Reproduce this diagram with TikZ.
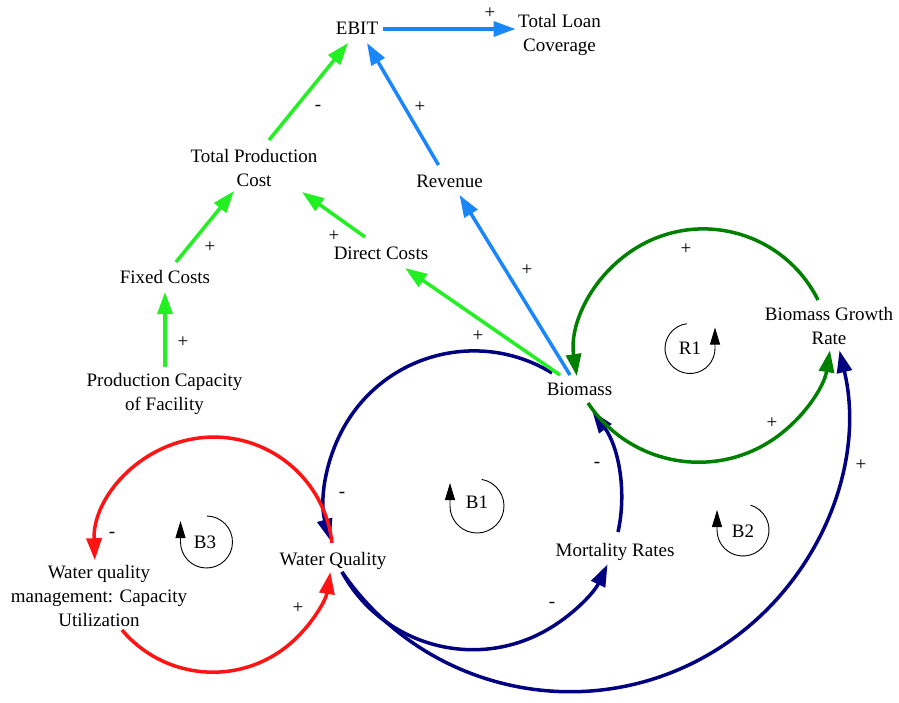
\documentclass[tikz,border=0pt]{standalone}
\usepackage{fontspec}
\setmainfont{Liberation Serif}
\usetikzlibrary{arrows.meta}
\definecolor{cblue}{RGB}{25,135,250}
\definecolor{clime}{RGB}{35,240,35}
\definecolor{cdkgreen}{RGB}{0,128,0}
\definecolor{cnavy}{RGB}{0,0,128}
\definecolor{cred}{RGB}{255,20,20}
\begin{document}
\begin{tikzpicture}[x=1pt,y=1pt,
  lbl/.style={inner sep=0pt, align=center, font=\fontsize{19}{24}\selectfont},
  sgn/.style={inner sep=0pt, font=\fontsize{19}{22}\selectfont},
  link/.style={line width=3.5pt, -{Triangle[length=22pt,width=15pt]}},
  loopsym/.style={line width=0.9pt, -{Triangle[length=17pt,width=10pt]}}]
\fill[white] (0,0) rectangle (899,-702);
\useasboundingbox (0,0) rectangle (899,-702);

% variables
\node[lbl] (ebit) at (357,-28.7) {EBIT};
\node[lbl] (tlc) at (559.5,-34.5) {Total Loan\\Coverage};
\node[lbl] (tpc) at (254,-167.5) {Total Production\\Cost};
\node[lbl] (rev) at (449.5,-181.7) {Revenue};
\node[lbl] (fix) at (165,-276.5) {Fixed Costs};
\node[lbl] (dc) at (381,-253.5) {Direct Costs};
\node[lbl] (pcf) at (164.5,-394) {Production Capacity\\of Facility};
\node[lbl] (bio) at (579.5,-389.7) {Biomass};
\node[lbl] (bgr) at (829,-326) {Biomass Growth\\Rate};
\node[lbl] (wq) at (333,-560.5) {Water Quality};
\node[lbl] (mr) at (615,-551.5) {Mortality Rates};
\node[lbl] (wqm) at (99,-595.5) {Water quality\\management: Capacity\\Utilization};

% straight links
\draw[link,cblue] ([shift={(26,-0.3)}]ebit.center) -- ([shift={(-44,5.5)}]tlc.center);
\draw[link,cblue] ([shift={(-11,16.7)}]rev.center) -- ([shift={(10,-14.3)}]ebit.center);
\draw[link,clime] ([shift={(15,27.5)}]tpc.center) -- ([shift={(-9,-14.3)}]ebit.center);
\draw[link,clime] ([shift={(11,14.5)}]fix.center) -- ([shift={(-20,-23.5)}]tpc.center);
\draw[link,clime] ([shift={(0.5,27)}]pcf.center) -- ([shift={(0,-15.5)}]fix.center);
\draw[link,clime] ([shift={(-16,16.5)}]dc.center) -- ([shift={(48,-24.5)}]tpc.center);

% curved links
\draw[link,cnavy] ([shift={(-27.5,16.7)}]bio.center) arc[start angle=58.4,end angle=196,radius=149pt];
\draw[link,cnavy] ([shift={(9,-11.5)}]wq.center) arc[start angle=208.6,end angle=334.7,radius=149pt];
\draw[link,cnavy] ([shift={(3,19.5)}]mr.center) arc[start angle=-12.5,end angle=36.5,radius=149pt];
\draw[link,cnavy] ([shift={(9,-11.5)}]wq.center) arc[start angle=214.6,end angle=373.4,radius=277pt];
\draw[link,clime] ([shift={(-19.5,14.7)}]bio.center) -- ([shift={(24,-14.5)}]dc.center);
\draw[link,cblue] ([shift={(-9.5,14.7)}]bio.center) -- ([shift={(10,-13.3)}]rev.center);
\draw[link,cdkgreen] ([shift={(-11,26)}]bgr.center) arc[start angle=26.4,end angle=188.6,radius=128pt];
\draw[link,cdkgreen] ([shift={(8.5,-13.3)}]bio.center) arc[start angle=213.7,end angle=350.9,radius=133pt];
\draw[link,cred] ([shift={(-1,17.5)}]wq.center) arc[start angle=6.3,end angle=182,radius=119pt];
\draw[link,cred] ([shift={(23,-34.5)}]wqm.center) arc[start angle=220.2,end angle=350.9,radius=119pt];

% polarities
\node[sgn] (s1) at (490,-13) {+};
\node[sgn] (s2) at (420,-107) {+};
\node[sgn] (s3) at (318,-108) {-};
\node[sgn] (s4) at (210,-247) {+};
\node[sgn] (s5) at (183,-342) {+};
\node[sgn] (s6) at (334,-236) {+};
\node[sgn] (s7) at (527,-270) {+};
\node[sgn] (s8) at (478,-336) {+};
\node[sgn] (s9) at (686,-249) {+};
\node[sgn] (s10) at (772,-423) {+};
\node[sgn] (s11) at (861,-465) {+};
\node[sgn] (s12) at (597,-465) {-};
\node[sgn] (s13) at (552,-605) {-};
\node[sgn] (s14) at (342,-495) {-};
\node[sgn] (s15) at (112,-535) {-};
\node[sgn] (s16) at (298,-608) {+};

% loop markers
\node[lbl] (r1) at (690,-348.5) {R1};
\draw[loopsym] (r1.center) ++(97:25pt) arc[start angle=97,end angle=360,radius=25pt] -- ++(0,21);
\node[lbl] (b1) at (477,-502) {B1};
\draw[loopsym] ([shift={(0,-4)}]b1.center) ++(80:27pt) arc[start angle=80,end angle=-180,radius=27pt] -- ++(0,23);
\node[lbl] (b2) at (743,-531) {B2};
\draw[loopsym] ([shift={(0,1)}]b2.center) ++(73:26pt) arc[start angle=73,end angle=-180,radius=26pt] -- ++(0,20);
\node[lbl] (b3) at (205,-542) {B3};
\draw[loopsym] ([shift={(1.5,0)}]b3.center) ++(89:26pt) arc[start angle=89,end angle=-180,radius=26pt] -- ++(0,21);
\end{tikzpicture}
\end{document}
